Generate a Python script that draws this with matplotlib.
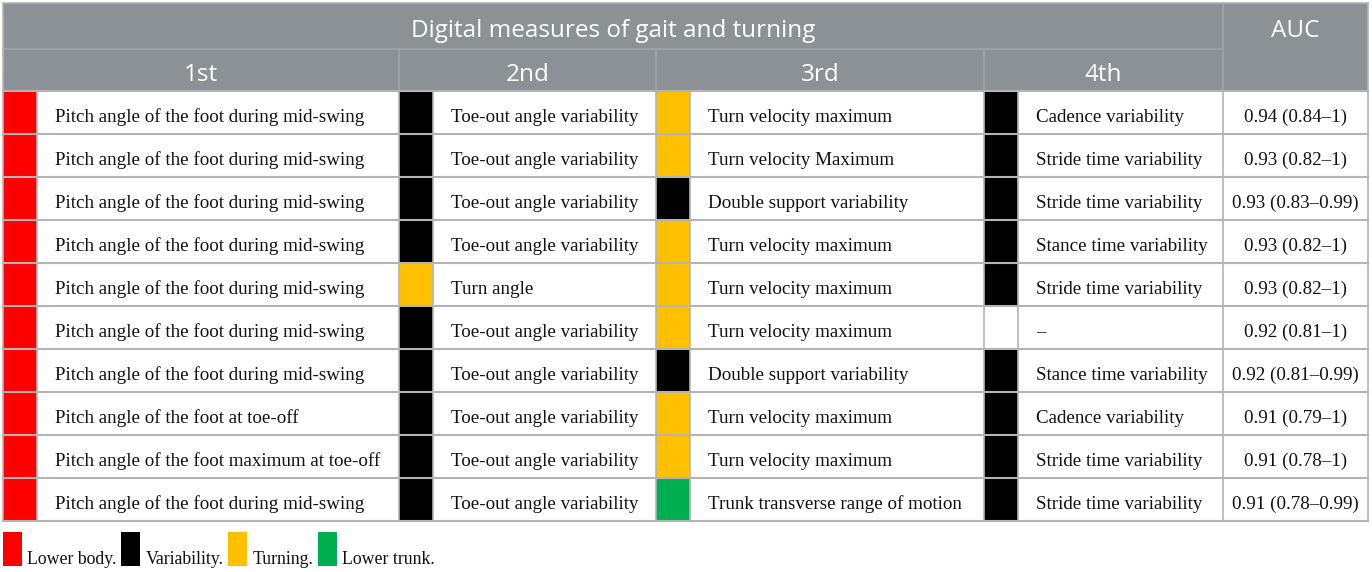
import matplotlib.pyplot as plt
from matplotlib.patches import Rectangle

# table content
title = "Digital measures of gait and turning"
rank_labels = ["1st", "2nd", "3rd", "4th"]

first = ["Pitch angle of the foot during mid-swing"] * 7 + [
    "Pitch angle of the foot at toe-off",
    "Pitch angle of the foot maximum at toe-off",
    "Pitch angle of the foot during mid-swing"]
second = ["Toe-out angle variability"] * 4 + ["Turn angle"] + ["Toe-out angle variability"] * 5
third = ["Turn velocity maximum", "Turn velocity Maximum", "Double support variability",
         "Turn velocity maximum", "Turn velocity maximum", "Turn velocity maximum",
         "Double support variability", "Turn velocity maximum", "Turn velocity maximum",
         "Trunk transverse range of motion"]
fourth = ["Cadence variability", "Stride time variability", "Stride time variability",
          "Stance time variability", "Stride time variability", "\u2013",
          "Stance time variability", "Cadence variability", "Stride time variability",
          "Stride time variability"]
auc = ["0.94 (0.84\u20131)", "0.93 (0.82\u20131)", "0.93 (0.83\u20130.99)", "0.93 (0.82\u20131)",
       "0.93 (0.82\u20131)", "0.92 (0.81\u20131)", "0.92 (0.81\u20130.99)", "0.91 (0.79\u20131)",
       "0.91 (0.78\u20131)", "0.91 (0.78\u20130.99)"]

# category codes per cell: L lower body, V variability, T turning, K lower trunk, "" none
cat1 = ["L"] * 10
cat2 = ["V"] * 4 + ["T"] + ["V"] * 5
cat3 = ["T", "T", "V", "T", "T", "T", "V", "T", "T", "K"]
cat4 = ["V", "V", "V", "V", "V", "", "V", "V", "V", "V"]

legend_keys = ["L", "V", "T", "K"]
legend_names = ["Lower body.", "Variability.", "Turning.", "Lower trunk."]
colors = {"L": "#ff0000", "V": "#000000", "T": "#ffc000", "K": "#00b050", "": "#ffffff"}

# layout (pixels)
W, H = 1372, 572
x_edges = [3, 37, 399, 433, 656, 690, 984, 1018, 1223, 1368]
top, h1, h2 = 3, 49, 91
row_h = 43
header_bg = "#8c9196"
grid = "#b4b4b4"
serif = "Liberation Serif"
sans = "Open Sans"
body_fs = 13.7

fig = plt.figure(figsize=(W / 100, H / 100), dpi=100)
ax = fig.add_axes([0, 0, 1, 1])
ax.set_xlim(0, W)
ax.set_ylim(H, 0)
ax.axis("off")

# header
ax.add_patch(Rectangle((x_edges[0], top), x_edges[-1] - x_edges[0], h2 - top,
                       facecolor=header_bg, edgecolor="none"))
ax.text((x_edges[0] + x_edges[8]) / 2, (top + h1) / 2 + 5, title, color="white",
        fontsize=17.5, family=sans, ha="center", va="center")
ax.text((x_edges[8] + x_edges[9]) / 2, (top + h1) / 2 + 5, "AUC", color="white",
        fontsize=17.5, family=sans, ha="center", va="center")
for i, lab in enumerate(rank_labels):
    x0, x1 = x_edges[2 * i], x_edges[2 * i + 2]
    ax.text((x0 + x1) / 2, (h1 + h2) / 2 + 5, lab, color="white",
            fontsize=17.5, family=sans, ha="center", va="center")
hl = "#a0a5a9"
ax.plot([x_edges[0], x_edges[8]], [h1, h1], color=hl, lw=1.2)
for xe in [x_edges[2], x_edges[4], x_edges[6]]:
    ax.plot([xe, xe], [h1, h2], color=hl, lw=1.2)
ax.plot([x_edges[8], x_edges[8]], [top, h2], color=hl, lw=1.2)

# body
cols = [(first, cat1), (second, cat2), (third, cat3), (fourth, cat4)]
n = len(auc)
bottom = h2 + n * row_h
for r in range(n):
    y0 = h2 + r * row_h
    yc = y0 + row_h / 2 + 5
    for c, (texts, cats) in enumerate(cols):
        bx0, bx1 = x_edges[2 * c], x_edges[2 * c + 1]
        ax.add_patch(Rectangle((bx0, y0), bx1 - bx0, row_h,
                               facecolor=colors[cats[r]], edgecolor="none"))
        ax.text(bx1 + 18, yc, texts[r], fontsize=body_fs, family=serif,
                ha="left", va="center", color="#111111")
    ax.text((x_edges[8] + x_edges[9]) / 2, yc, auc[r], fontsize=body_fs, family=serif,
            ha="center", va="center", color="#111111")

for r in range(n + 1):
    y = h2 + r * row_h
    ax.plot([x_edges[0], x_edges[-1]], [y, y], color=grid, lw=1.5)
for xe in x_edges:
    ax.plot([xe, xe], [h2, bottom], color=grid, lw=1.2)
ax.plot([x_edges[0], x_edges[0]], [top, h2], color=grid, lw=1.2)
ax.plot([x_edges[-1], x_edges[-1]], [top, h2], color=grid, lw=1.2)
ax.plot([x_edges[0], x_edges[-1]], [top, top], color=grid, lw=1.2)

# legend
lx = 3
for key, name in zip(legend_keys, legend_names):
    ax.add_patch(Rectangle((lx, 532), 19, 34, facecolor=colors[key], edgecolor="none"))
    t = ax.text(lx + 24, 564, name, fontsize=12.8, family=serif, ha="left",
                va="baseline", color="#111111")
    fig.canvas.draw()
    bb = t.get_window_extent()
    lx = bb.x1 + 5

fig.savefig("out.png", dpi=100)
